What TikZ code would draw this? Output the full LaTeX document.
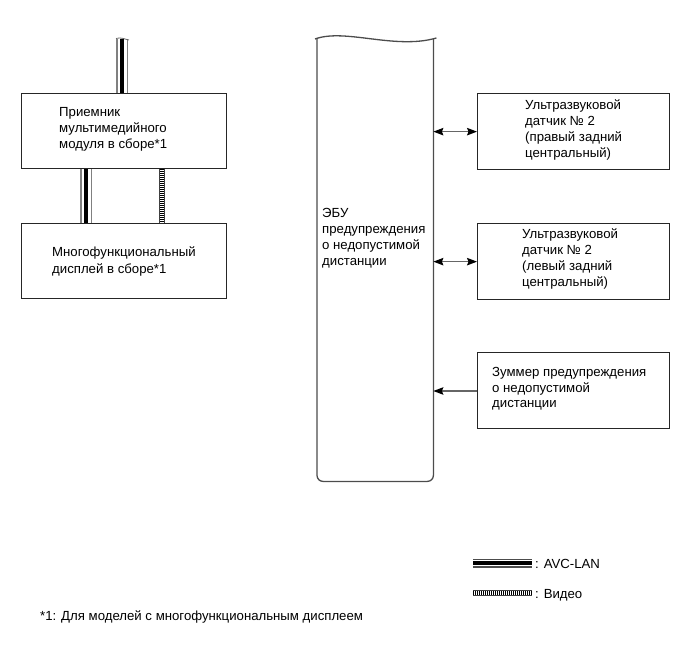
\documentclass[tikz,border=0pt]{standalone}
\usepackage{fontspec}
\setmainfont{Liberation Sans}
\usetikzlibrary{arrows.meta}
\begin{document}
\begin{tikzpicture}[x=1pt,y=-1pt,
  >={Stealth[length=10pt,width=7.5pt,inset=1.5pt,color=black]},
  box/.style={draw=black!85, line width=1.3pt, inner sep=0pt, anchor=north west},
  lbl/.style={anchor=base west, inner sep=0pt, font=\fontsize{13.2}{16}\selectfont},
  arr/.style={draw=black!60, line width=1.1pt},
  avc/.style={line width=12pt, draw=black!50, postaction={draw=white, line width=9pt}, postaction={draw=black, line width=4.5pt}},
  avch/.style={line width=9pt, draw=black!70, postaction={draw=white, line width=6pt}, postaction={draw=black, line width=3.5pt}},
  video/.style={line width=6pt, draw=black!75, postaction={draw=white, line width=4pt}, postaction={draw=black, line width=4pt, dash pattern=on 0.7pt off 1.3pt}}
]
\useasboundingbox (0,0) rectangle (691,660);

% left boxes
\node[box, minimum width=205, minimum height=75] (recv) at (21,93) {};
\node[box, minimum width=205, minimum height=75] (disp) at (21,223) {};
\node[lbl] (recvt1) at (59,116.5) {Приемник};
\node[lbl] (recvt2) at (59,132.5) {мультимедийного};
\node[lbl] (recvt3) at (59,148.5) {модуля в сборе*1};
\node[lbl] (dispt1) at (52,256.5) {Многофункциональный};
\node[lbl] (dispt2) at (52,274) {дисплей в сборе*1};

% right boxes
\node[box, minimum width=192, minimum height=76] (s1) at (477,93) {};
\node[box, minimum width=192, minimum height=76] (s2) at (477,223) {};
\node[box, minimum width=192, minimum height=76] (bz) at (477,352) {};
\node[lbl] (s1t1) at (525,109.5) {Ультразвуковой};
\node[lbl] (s1t2) at (525,125.5) {датчик № 2};
\node[lbl] (s1t3) at (525,141.5) {(правый задний};
\node[lbl] (s1t4) at (525,157.5) {центральный)};
\node[lbl] (s2t1) at (522,238.5) {Ультразвуковой};
\node[lbl] (s2t2) at (522,254.5) {датчик № 2};
\node[lbl] (s2t3) at (522,270.5) {(левый задний};
\node[lbl] (s2t4) at (522,286.5) {центральный)};
\node[lbl] (bzt1) at (492,376.5) {Зуммер предупреждения};
\node[lbl] (bzt2) at (492,392) {о недопустимой};
\node[lbl] (bzt3) at (492,407.5) {дистанции};

% ECU
\node[inner sep=0pt, minimum width=116, minimum height=442, anchor=north west] (ecu) at (317,39) {};
\draw[draw=black!70, line width=1.3pt, rounded corners=6pt] (ecu.north west) -- (ecu.south west) -- (ecu.south east) -- (ecu.north east);
\draw[draw=black!70, line width=1.3pt] ([xshift=-2pt]ecu.north west) .. controls (345,28) and (395,50) .. ([xshift=3pt,yshift=1pt]ecu.north east);
\node[lbl] (ecut1) at (322,218) {ЭБУ};
\node[lbl] (ecut2) at (322,234) {предупреждения};
\node[lbl] (ecut3) at (322,250) {о недопустимой};
\node[lbl] (ecut4) at (322,266) {дистанции};

% arrows
\draw[arr, <->] (ecu.east |- s1.west) -- (s1.west);
\draw[arr, <->] (ecu.east |- s2.west) -- (s2.west);
\draw[arr, ->] (bz.west |- 0,391) -- (ecu.east |- 0,391);

% cables
\coordinate (avctop) at (122,39);
\draw[avc] (avctop) -- (avctop |- recv.north);
\draw[black!60, line width=0.8pt] (116,38.5) .. controls (121,37) and (124,39) .. (129,40);
\draw[avc] (86,0 |- recv.south) -- (86,0 |- disp.north);
\draw[video] (162,0 |- recv.south) -- (162,0 |- disp.north);

% legend
\coordinate (la1) at (473,563);
\coordinate (la2) at (532,563);
\coordinate (lv1) at (473,593);
\coordinate (lv2) at (532,593);
\draw[avch] (la1) -- (la2);
\draw[video] (lv1) -- (lv2);
\node[lbl] (lat) at (535,568) {: AVC-LAN};
\node[lbl] (lvt) at (535,598) {: Видео};
\node[lbl] (foot) at (40,620) {*1: Для моделей с многофункциональным дисплеем};
\end{tikzpicture}
\end{document}
